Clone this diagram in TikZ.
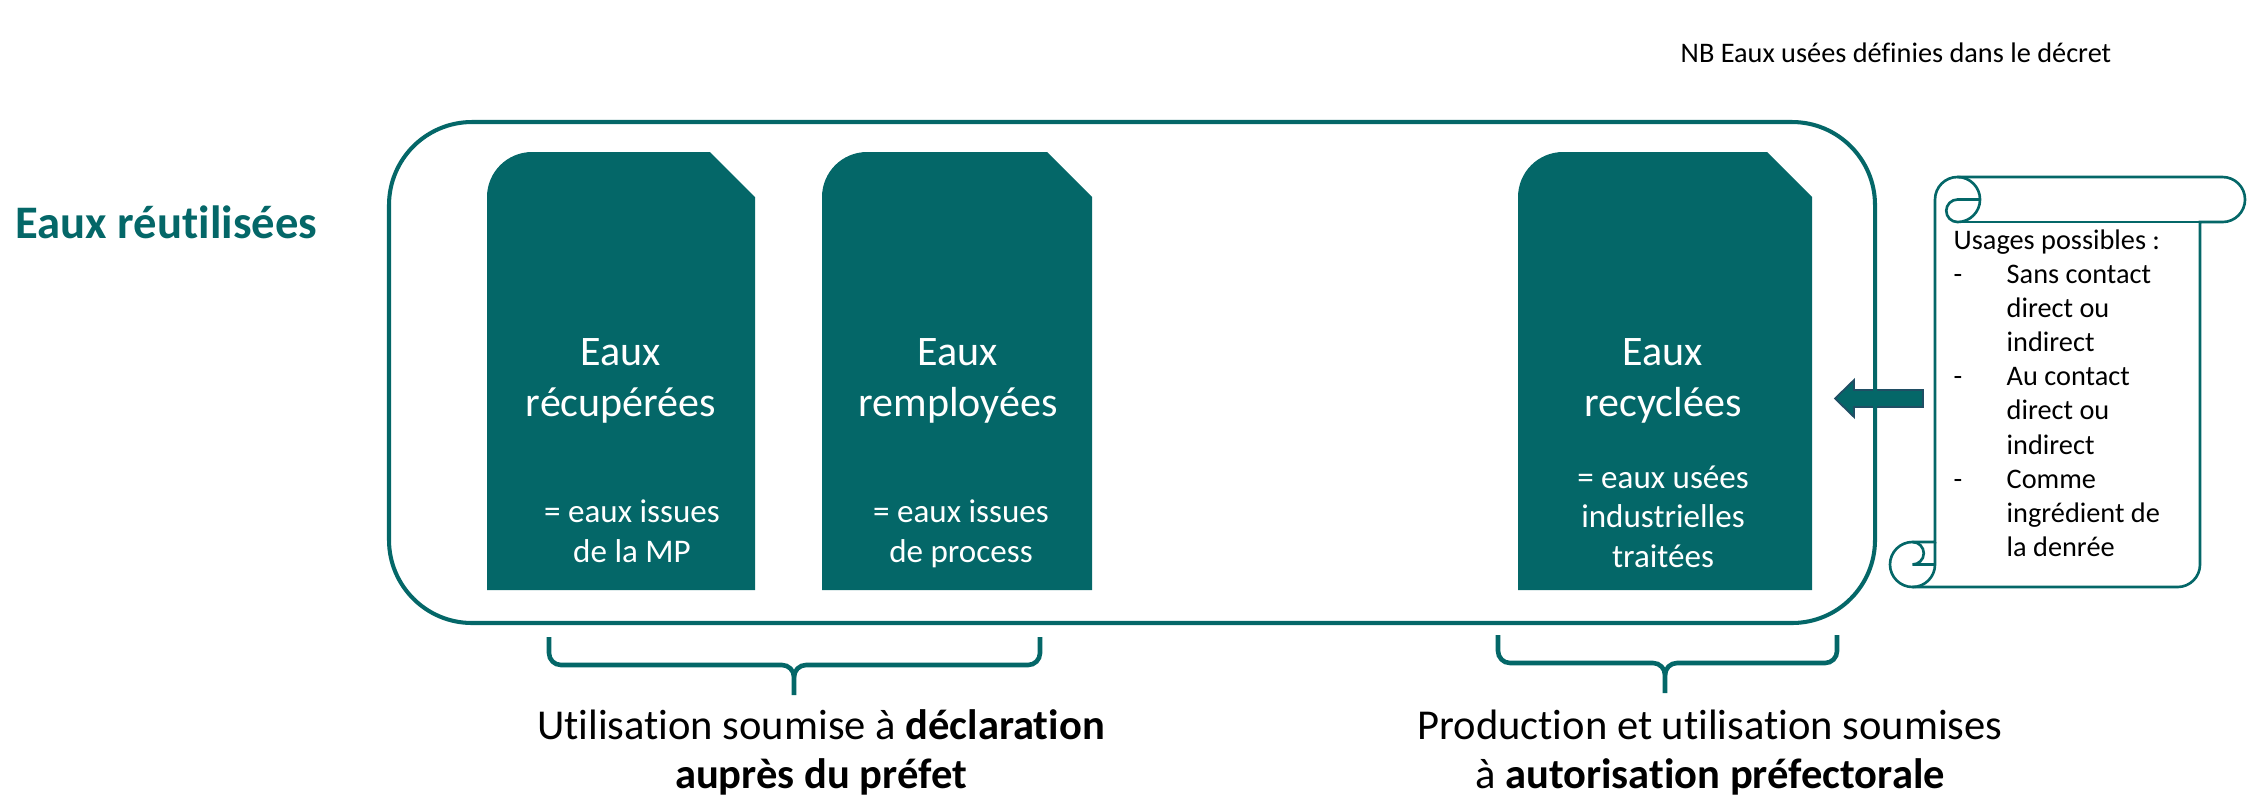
\documentclass[tikz,border=0pt]{standalone}
\usepackage{fontspec}
\setmainfont{Carlito}[Ligatures=NoCommon]
\definecolor{deepteal}{RGB}{4,103,104}
\definecolor{arrowline}{RGB}{32,78,100}
\tikzset{
  frame/.style={draw=deepteal, line width=1.15pt, rounded corners=0.83cm},
  card/.style={fill=deepteal},
  brace/.style={draw=deepteal, line width=1.3pt},
  scrollline/.style={draw=deepteal, line width=0.75pt},
  cardmain/.style={font=\fontsize{11.95}{14.5}\selectfont, text=white, align=center, inner sep=0pt},
  cardsub/.style={font=\fontsize{9.4}{11.2}\selectfont, text=white, align=center, inner sep=0pt},
  scrolltext/.style={font=\fontsize{8.05}{9.75}\selectfont, align=left, inner sep=0pt},
  bottomlbl/.style={font=\fontsize{12.1}{13.7}\selectfont, align=center, inner sep=0pt},
}
\begin{document}
\begin{tikzpicture}[x=0.01cm, y=-0.01cm]
\useasboundingbox (0,0) rectangle (2258,805);

% heading and note (multi-line nodes are placed by the baseline of their last line)
\node[anchor=base west, inner sep=0pt, text=deepteal, font=\fontsize{13.26}{16}\selectfont\bfseries] (title) at (15,238) {Eaux réutilisées};
\node[anchor=base west, inner sep=0pt, font=\fontsize{8.05}{9.75}\selectfont] (nb) at (1680,62) {NB Eaux usées définies dans le décret};

% arrow pointing from the scroll into the frame
\filldraw[fill=deepteal, draw=arrowline, line width=0.5pt]
  (1923,390) -- (1854,390) -- (1854,380) -- (1835,398.5) -- (1854,417) -- (1854,407) -- (1923,407) -- cycle;

% outer rounded frame
\draw[frame] (389,122) rectangle (1875,623);

% the three water cards (one rounded corner, one snipped corner)
\foreach \l/\r in {487/755, 822/1092, 1518/1812} {
  \fill[card] (\l,590) [rounded corners=0.45cm] -- (\l,152) [sharp corners] -- (\r-45,152) -- (\r,197) -- (\r,590) -- cycle;
}

\node[cardmain, anchor=base] (recup) at (621,416) {Eaux\\récupérées};
\node[cardsub, anchor=base] (recupdef) at (632,562) {= eaux issues\\de la MP};
\node[cardmain, anchor=base] (rempl) at (958,416) {Eaux\\remployées};
\node[cardsub, anchor=base] (rempldef) at (961,562) {= eaux issues\\de process};
\node[cardmain, anchor=base] (recyc) at (1663,416) {Eaux\\recyclées};
\node[cardsub, anchor=base] (recycdef) at (1663,567) {= eaux usées\\industrielles\\traitées};

% vertical scroll
\filldraw[scrollline, fill=white]
  (1935,199.5) arc[start angle=180, end angle=90, radius=0.225cm]
  -- (2222.5,177) arc[start angle=90, end angle=-90, radius=0.225cm]
  -- (2200,222) -- (2200,564.5) arc[start angle=0, end angle=-90, radius=0.225cm]
  -- (1912.5,587) arc[start angle=270, end angle=90, radius=0.225cm]
  -- (1935,542) -- cycle;
\draw[scrollline] (1935,542) -- (1935,564.5) arc[start angle=0, end angle=-90, radius=0.225cm];
\draw[scrollline] (1912.5,542) arc[start angle=90, end angle=-90, radius=0.1125cm] -- (1935,564.5);
\draw[scrollline] (1957.5,177) arc[start angle=90, end angle=-90, radius=0.225cm]
  arc[start angle=-90, end angle=-270, radius=0.1125cm] -- (1980,199.5);
\draw[scrollline] (2200,222) -- (1957.5,222);

\node[scrolltext, anchor=base west] (usages) at (1953,249) {Usages possibles :};
\node[scrolltext, anchor=base west] (d1) at (1953,283.2) {-};
\node[scrolltext, anchor=base west] (u1) at (2006,351.6) {Sans contact\\direct ou\\indirect};
\node[scrolltext, anchor=base west] (d2) at (1953,385.8) {-};
\node[scrolltext, anchor=base west] (u2) at (2006,454.2) {Au contact\\direct ou\\indirect};
\node[scrolltext, anchor=base west] (d3) at (1953,488.4) {-};
\node[scrolltext, anchor=base west] (u3) at (2006,556.8) {Comme\\ingrédient de\\la denrée};

% braces under the cards
\draw[brace] (549,637) -- (549,653) to[out=-90, in=180] (561,665) -- (782,665) to[out=0, in=90] (794,677) -- (794,695);
\draw[brace] (1040,637) -- (1040,653) to[out=-90, in=0] (1028,665) -- (806,665) to[out=180, in=90] (794,677);
\draw[brace] (1498,635) -- (1498,651) to[out=-90, in=180] (1510,663) -- (1653,663) to[out=0, in=90] (1665,675) -- (1665,693);
\draw[brace] (1837,635) -- (1837,651) to[out=-90, in=0] (1825,663) -- (1677,663) to[out=180, in=90] (1665,675);

\node[bottomlbl, anchor=base] (decl) at (821,788) {Utilisation soumise à \textbf{déclaration}\\\textbf{auprès du préfet}};
\node[bottomlbl, anchor=base] (autor) at (1710,788) {Production et utilisation soumises\\à \textbf{autorisation préfectorale}};
\end{tikzpicture}
\end{document}
